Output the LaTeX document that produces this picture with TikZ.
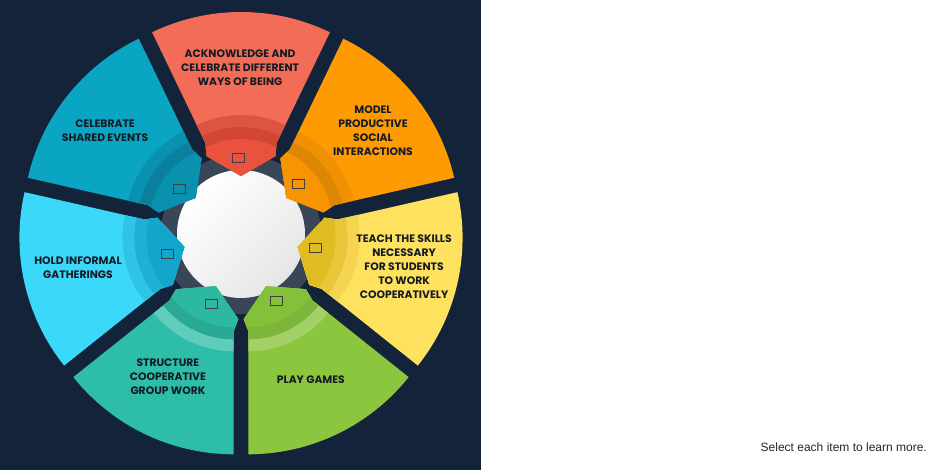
\documentclass[tikz,border=0pt]{standalone}
\usepackage{fontspec}
\newfontfamily\wheelfont{Poppins}
\newfontfamily\notefont{Liberation Sans}
\definecolor{navy}{HTML}{13243A}
\definecolor{ringgray}{HTML}{394657}
\definecolor{ink}{HTML}{141B25}
% segment colours: main, outer band, inner band, arrow
\definecolor{ackMain}{HTML}{F36C57}
\definecolor{ackBandA}{HTML}{DE5442}
\definecolor{ackBandB}{HTML}{D24634}
\definecolor{ackTip}{HTML}{E9533E}
\definecolor{modelMain}{HTML}{FE9A02}
\definecolor{modelBandA}{HTML}{F09104}
\definecolor{modelBandB}{HTML}{DE8704}
\definecolor{modelTip}{HTML}{F69402}
\definecolor{teachMain}{HTML}{FEE15E}
\definecolor{teachBandA}{HTML}{F4D450}
\definecolor{teachBandB}{HTML}{E7C63A}
\definecolor{teachTip}{HTML}{DFBD22}
\definecolor{playMain}{HTML}{8CC63F}
\definecolor{playBandA}{HTML}{A3D168}
\definecolor{playBandB}{HTML}{7DB63A}
\definecolor{playTip}{HTML}{84C13B}
\definecolor{structMain}{HTML}{2DBDA8}
\definecolor{structBandA}{HTML}{5FCDB9}
\definecolor{structBandB}{HTML}{2AAA95}
\definecolor{structTip}{HTML}{2DB9A1}
\definecolor{holdMain}{HTML}{3CD8FA}
\definecolor{holdBandA}{HTML}{2FC3E6}
\definecolor{holdBandB}{HTML}{1EB1D6}
\definecolor{holdTip}{HTML}{12A6CC}
\definecolor{celebMain}{HTML}{0BA5C4}
\definecolor{celebBandA}{HTML}{0992AF}
\definecolor{celebBandB}{HTML}{0B809C}
\definecolor{celebTip}{HTML}{0A91AE}
\tikzset{
  petal label/.style={font=\wheelfont\bfseries\fontsize{10.8}{14}\selectfont, text=ink, align=center, inner sep=0pt, yshift=-2pt},
  icon box/.style={draw=black!75, line width=0.6pt, minimum width=12pt, minimum height=9pt, inner sep=0pt},
}
\begin{document}
\begin{tikzpicture}[x=1pt,y=1pt]
    \useasboundingbox (0,0) rectangle (940,470);
    \fill[navy] (0,0) rectangle (481,470);
    \coordinate (O) at (241,236);
    \fill[ringgray] (O) circle (80);
    \shade[top color=white, bottom color=black!10, shading angle=45] (O) circle (64);
    % index / name / label angle / label radius / text
    \foreach \i/\seg/\t/\r/\txt in {0/ack/90.3/168/{ACKNOWLEDGE AND\\CELEBRATE DIFFERENT\\WAYS OF BEING},
                             1/model/38.5/168.7/{MODEL\\PRODUCTIVE\\SOCIAL\\INTERACTIONS},
                             2/teach/-10.8/166/{TEACH THE SKILLS\\NECESSARY\\FOR STUDENTS\\TO WORK\\COOPERATIVELY},
                             3/play/-64.1/160/{PLAY GAMES},
                             4/struct/-117.4/158.8/{STRUCTURE\\COOPERATIVE\\GROUP WORK},
                             5/hold/190.9/166/{HOLD INFORMAL\\GATHERINGS},
                             6/celeb/142.3/171.8/{CELEBRATE\\SHARED EVENTS}} {
        \pgfmathsetmacro\a{90-\i*360/7}
        \begin{scope}[shift={(O)}, shift={(\a:17)}]
            \begin{scope}
                \clip (\a-25.714:82) -- (\a-25.714:205)
                    arc[start angle=\a-25.714, end angle=\a+25.714, radius=205]
                    -- (\a+25.714:82) -- (\a+29.5:70) -- (\a:41) -- (\a-29.5:70) -- cycle;
                \fill[fill=\seg Main] (0,0) circle (210);
                \fill[fill=\seg BandA] (0,0) circle (102);
                \fill[fill=\seg BandB] (0,0) circle (90);
                \fill[fill=\seg Tip] (0,0) circle (78);
            \end{scope}
            \node[icon box] (\seg-icon) at (\a+3:59) {};
        \end{scope}
        \node[petal label] (\seg) at ([shift={(\t:\r)}]O) {\txt};
    }
    \node[font=\notefont\fontsize{12}{14}\selectfont, text=black!85, anchor=base east, inner sep=0pt] (note) at (927,18.5) {Select each item to learn more.};
\end{tikzpicture}
\end{document}
